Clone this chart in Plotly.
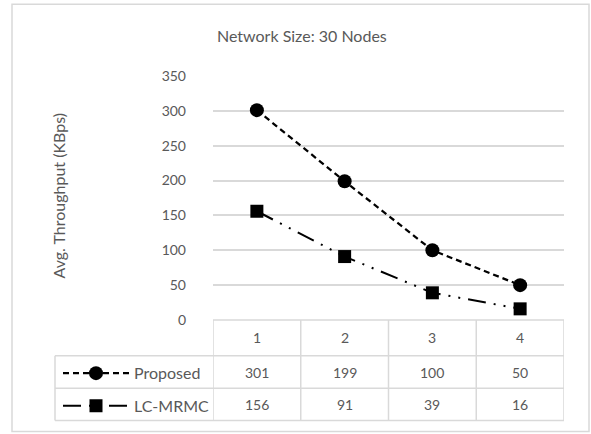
import plotly.graph_objects as go

# Data
categories = [1, 2, 3, 4]
proposed = [301, 199, 100, 50]
lc_mrmc = [156, 91, 39, 16]
series_names = ["Proposed", "LC-MRMC"]
y_ticks = [0, 50, 100, 150, 200, 250, 300, 350]

W, H = 591, 434
ML, MR, MT, MB = 213, 27, 76, 113
PW, PH = W - ML - MR, H - MT - MB

TXT = "#595959"
GRID = "#d9d9d9"
FONT = "Lato"


def px_x(px):
    return (px - ML) / PW


def px_y(py):
    return (H - MB - py) / PH


text_font = dict(family=FONT, size=16, color=TXT)
num_font = dict(family=FONT, size=14, color=TXT)

fig = go.Figure()
fig.add_trace(go.Scatter(
    x=categories, y=proposed, name=series_names[0], mode="lines+markers",
    line=dict(color="black", width=2.25, dash="6px,4px"),
    marker=dict(symbol="circle", size=14, color="black"),
    legend="legend", cliponaxis=False,
))
fig.add_trace(go.Scatter(
    x=categories, y=lc_mrmc, name=series_names[1], mode="lines+markers",
    line=dict(color="black", width=2, dash="18px,8px,2px,8px,2px,8px"),
    marker=dict(symbol="square", size=13, color="black"),
    legend="legend2", cliponaxis=False,
))

# Data table grid (pixel boundaries of the rows)
row_top, row_h1, row_r1, row_bot = 321, 357, 389.5, 422
cell_left = 55
shapes = []
line_style = dict(color=GRID, width=1.5)
# chart area border
shapes.append(dict(type="rect", xref="paper", yref="paper",
                   x0=px_x(12), x1=px_x(589), y0=px_y(4), y1=px_y(433),
                   line=dict(color=GRID, width=1.5)))
# horizontal table lines
shapes.append(dict(type="line", xref="paper", yref="paper",
                   x0=0, x1=1, y0=px_y(row_top), y1=px_y(row_top), line=line_style))
for yy in (row_h1, row_r1, row_bot):
    shapes.append(dict(type="line", xref="paper", yref="paper",
                       x0=px_x(cell_left), x1=1, y0=px_y(yy), y1=px_y(yy), line=line_style))
# vertical lines between category columns
for i in range(len(categories) + 1):
    shapes.append(dict(type="line", xref="x", yref="paper",
                       x0=0.5 + i, x1=0.5 + i, y0=px_y(row_top), y1=px_y(row_bot),
                       line=line_style))
shapes.append(dict(type="line", xref="paper", yref="paper",
                   x0=px_x(cell_left), x1=px_x(cell_left), y0=px_y(row_h1), y1=px_y(row_bot),
                   line=line_style))

annotations = []
cell = dict(xref="x", yref="paper", showarrow=False, font=num_font,
            xanchor="center", yanchor="middle")
for c, p, l in zip(categories, proposed, lc_mrmc):
    annotations.append(dict(cell, x=c, y=px_y((row_top + row_h1) / 2), text=str(c)))
    annotations.append(dict(cell, x=c, y=px_y((row_h1 + row_r1) / 2), text=str(p)))
    annotations.append(dict(cell, x=c, y=px_y((row_r1 + row_bot) / 2), text=str(l)))

annotations.append(dict(x=px_x(302), y=px_y(35), xref="paper", yref="paper",
                        xanchor="center", yanchor="middle",
                        text="Network Size: 30 Nodes", showarrow=False, font=text_font))
annotations.append(dict(x=px_x(59), y=px_y(196), xref="paper", yref="paper",
                        xanchor="center", yanchor="middle",
                        text="Avg. Throughput (KBps)", showarrow=False, textangle=-90,
                        font=text_font))

leg = dict(font=text_font, bgcolor="rgba(0,0,0,0)", itemwidth=66, itemsizing="trace",
           xanchor="left", yanchor="middle", orientation="v", tracegroupgap=0)

fig.update_layout(
    width=W, height=H,
    margin=dict(l=ML, r=MR, t=MT, b=MB),
    paper_bgcolor="white", plot_bgcolor="white",
    font=text_font,
    showlegend=True,
    legend=dict(leg, x=px_x(58), y=px_y((row_h1 + row_r1) / 2)),
    legend2=dict(leg, x=px_x(58), y=px_y((row_r1 + row_bot) / 2)),
    xaxis=dict(range=[0.5, 4.5], showticklabels=False, showgrid=False,
               zeroline=False, showline=False, ticks=""),
    yaxis=dict(range=[0, 350], tickvals=y_ticks, showgrid=True, gridcolor=GRID,
               gridwidth=1.5, zeroline=False, showline=False, ticks="",
               tickfont=num_font, ticklabelstandoff=26),
    shapes=shapes,
    annotations=annotations,
)

fig.write_html("out.html")
